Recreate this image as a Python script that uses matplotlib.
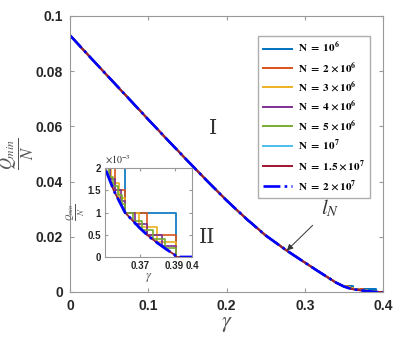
import matplotlib
matplotlib.use("Agg")
import matplotlib.pyplot as plt
import numpy as np

plt.rcParams['font.family'] = ['Liberation Sans', 'DejaVu Sans']
plt.rcParams['mathtext.fontset'] = 'stix'

# limiting curve
base_gamma = [0, 0.025, 0.05, 0.075, 0.1, 0.125, 0.15, 0.175, 0.2, 0.225, 0.25,
              0.277, 0.3, 0.315, 0.33, 0.34, 0.345, 0.35, 0.355, 0.3615, 0.37,
              0.375, 0.38, 0.385, 0.39, 0.391, 0.4]
base_q = [0.093, 0.0853, 0.0777, 0.0701, 0.0625, 0.0550, 0.0476, 0.0403, 0.0332,
          0.0266, 0.0205, 0.0150, 0.0107, 0.0079, 0.0052, 0.0034, 0.0027, 0.0020,
          0.0015, 0.0010, 0.00065, 0.00047, 0.00032, 0.00018, 0.00005, 0, 0]

# staircases near gamma = 0.35..0.4 (step starts, level x1e-3)
step_gamma = {
    '1e6': [0.35, 0.3615, 0.391, 0.4],
    '2e6': [0.35, 0.3557, 0.3615, 0.3741, 0.391, 0.4],
    '3e6': [0.35, 0.3537, 0.3581, 0.3615, 0.3696, 0.3796, 0.391, 0.4],
    '4e6': [0.35, 0.3528, 0.3557, 0.3591, 0.3615, 0.3675, 0.3741, 0.3825, 0.391, 0.4],
    '5e6': [0.35, 0.3522, 0.3545, 0.3572, 0.3597, 0.3615, 0.3662, 0.3714, 0.3773,
            0.3843, 0.391, 0.4],
}
step_level = {
    '1e6': [2.0, 1.0, 0.0, 0.0],
    '2e6': [2.0, 1.5, 1.0, 0.5, 0.0, 0.0],
    '3e6': [2.0, 1.667, 1.333, 1.0, 0.667, 0.333, 0.0, 0.0],
    '4e6': [2.0, 1.75, 1.5, 1.25, 1.0, 0.75, 0.5, 0.25, 0.0, 0.0],
    '5e6': [2.0, 1.8, 1.6, 1.4, 1.2, 1.0, 0.8, 0.6, 0.4, 0.2, 0.0, 0.0],
}

keys = ['1e6', '2e6', '3e6', '4e6', '5e6', '1e7', '1.5e7', '2e7']
labels = [r'$\mathbf{N\ =\ 10^6}$', r'$\mathbf{N\ =\ 2\times 10^6}$',
          r'$\mathbf{N\ =\ 3\times 10^6}$', r'$\mathbf{N\ =\ 4\times 10^6}$',
          r'$\mathbf{N\ =\ 5\times 10^6}$', r'$\mathbf{N\ =\ 10^7}$',
          r'$\mathbf{N\ =\ 1.5\times 10^7}$', r'$\mathbf{N\ =\ 2\times 10^7}$']
colors = ['#0072BD', '#D95319', '#EDB120', '#7E2F8E', '#77AC30', '#4DBEEE',
          '#A2142F', '#0000FF']

fig = plt.figure(figsize=(4.03, 3.41), dpi=100)
ax = fig.add_axes([0.1737, 0.1437, 0.7767, 0.8094])
ins = fig.add_axes([0.2605, 0.2463, 0.216, 0.261])

n_head = base_gamma.index(0.35) + 1
for k, lab, c in zip(keys, labels, colors):
    if k in step_gamma:
        ax.plot(base_gamma[:n_head], base_q[:n_head], color=c, lw=1.4, label=lab)
        ax.step(step_gamma[k], [v * 1e-3 for v in step_level[k]], where='post',
                color=c, lw=1.4)
        ins.step(step_gamma[k], step_level[k], where='post', color=c, lw=1.2)
    elif k == '2e7':
        ax.plot(base_gamma, base_q, '-.', color=c, lw=1.9, label=lab)
        ins.plot(base_gamma, [v * 1e3 for v in base_q], '-.', color=c, lw=2.0)
    else:
        ax.plot(base_gamma, base_q, color=c, lw=1.4, label=lab)
        ins.plot(base_gamma, [v * 1e3 for v in base_q], color=c, lw=1.2)

ax.set_xlim(0, 0.4)
ax.set_ylim(0, 0.1)
ax.set_xticks([0, 0.1, 0.2, 0.3, 0.4])
ax.set_xticklabels(['0', '0.1', '0.2', '0.3', '0.4'])
ax.set_yticks([0, 0.02, 0.04, 0.06, 0.08, 0.1])
ax.set_yticklabels(['0', '0.02', '0.04', '0.06', '0.08', '0.1'])
ax.tick_params(direction='in', top=True, right=True, length=3, color='#999999',
               labelsize=10, labelcolor='#262626', pad=5)
for t in ax.get_xticklabels() + ax.get_yticklabels():
    t.set_fontweight('bold')
for s in ax.spines.values():
    s.set_color('#999999')
ax.set_xlabel(r'$\gamma$', fontsize=16, color='#555555', labelpad=0)
ax.set_ylabel(r'$\frac{Q_{min}}{N}$', fontsize=17, color='#555555')
ax.yaxis.set_label_coords(-0.105, 0.5)

ax.legend(loc='upper right', bbox_to_anchor=(0.977, 0.948), fontsize=8,
          frameon=True, fancybox=False, edgecolor='#999999', handlelength=2.6,
          labelspacing=0.48, borderpad=0.45, handletextpad=0.6)

ax.text(0.183, 0.0594, 'I', fontsize=15, family='DejaVu Serif',
        ha='center', va='center', color='#333333')
ax.text(0.175, 0.0196, 'II', fontsize=15, family='DejaVu Serif',
        ha='center', va='center', color='#333333')
ax.annotate(r'$l_N$', xy=(0.277, 0.0150), xytext=(0.333, 0.0305),
            fontsize=15, ha='center', va='center', color='#333333',
            arrowprops=dict(arrowstyle='-|>', color='#333333', lw=0.7,
                            shrinkA=6, shrinkB=0, mutation_scale=9))

ins.set_xlim(0.35, 0.4)
ins.set_ylim(0, 2)
ins.set_xticks([0.37, 0.39, 0.4])
ins.set_xticklabels(['0.37', '0.39', '0.4'])
ins.set_yticks([0, 0.5, 1, 1.5, 2])
ins.set_yticklabels(['0', '0.5', '1', '1.5', '2'])
ins.tick_params(direction='in', top=True, right=True, length=2, color='#999999',
                labelsize=7, labelcolor='#262626', pad=3)
for t in ins.get_xticklabels() + ins.get_yticklabels():
    t.set_fontweight('bold')
for s in ins.spines.values():
    s.set_color('#999999')
ins.text(0.0, 1.02, r'$\times10^{-3}$', transform=ins.transAxes, fontsize=7,
         ha='left', va='bottom', color='#262626')
ins.set_xlabel(r'$\gamma$', fontsize=9, color='#555555', labelpad=0)
ins.set_ylabel(r'$\frac{Q_{min}}{N}$', fontsize=9, color='#555555', labelpad=0)

fig.savefig('out.png', dpi=100)
